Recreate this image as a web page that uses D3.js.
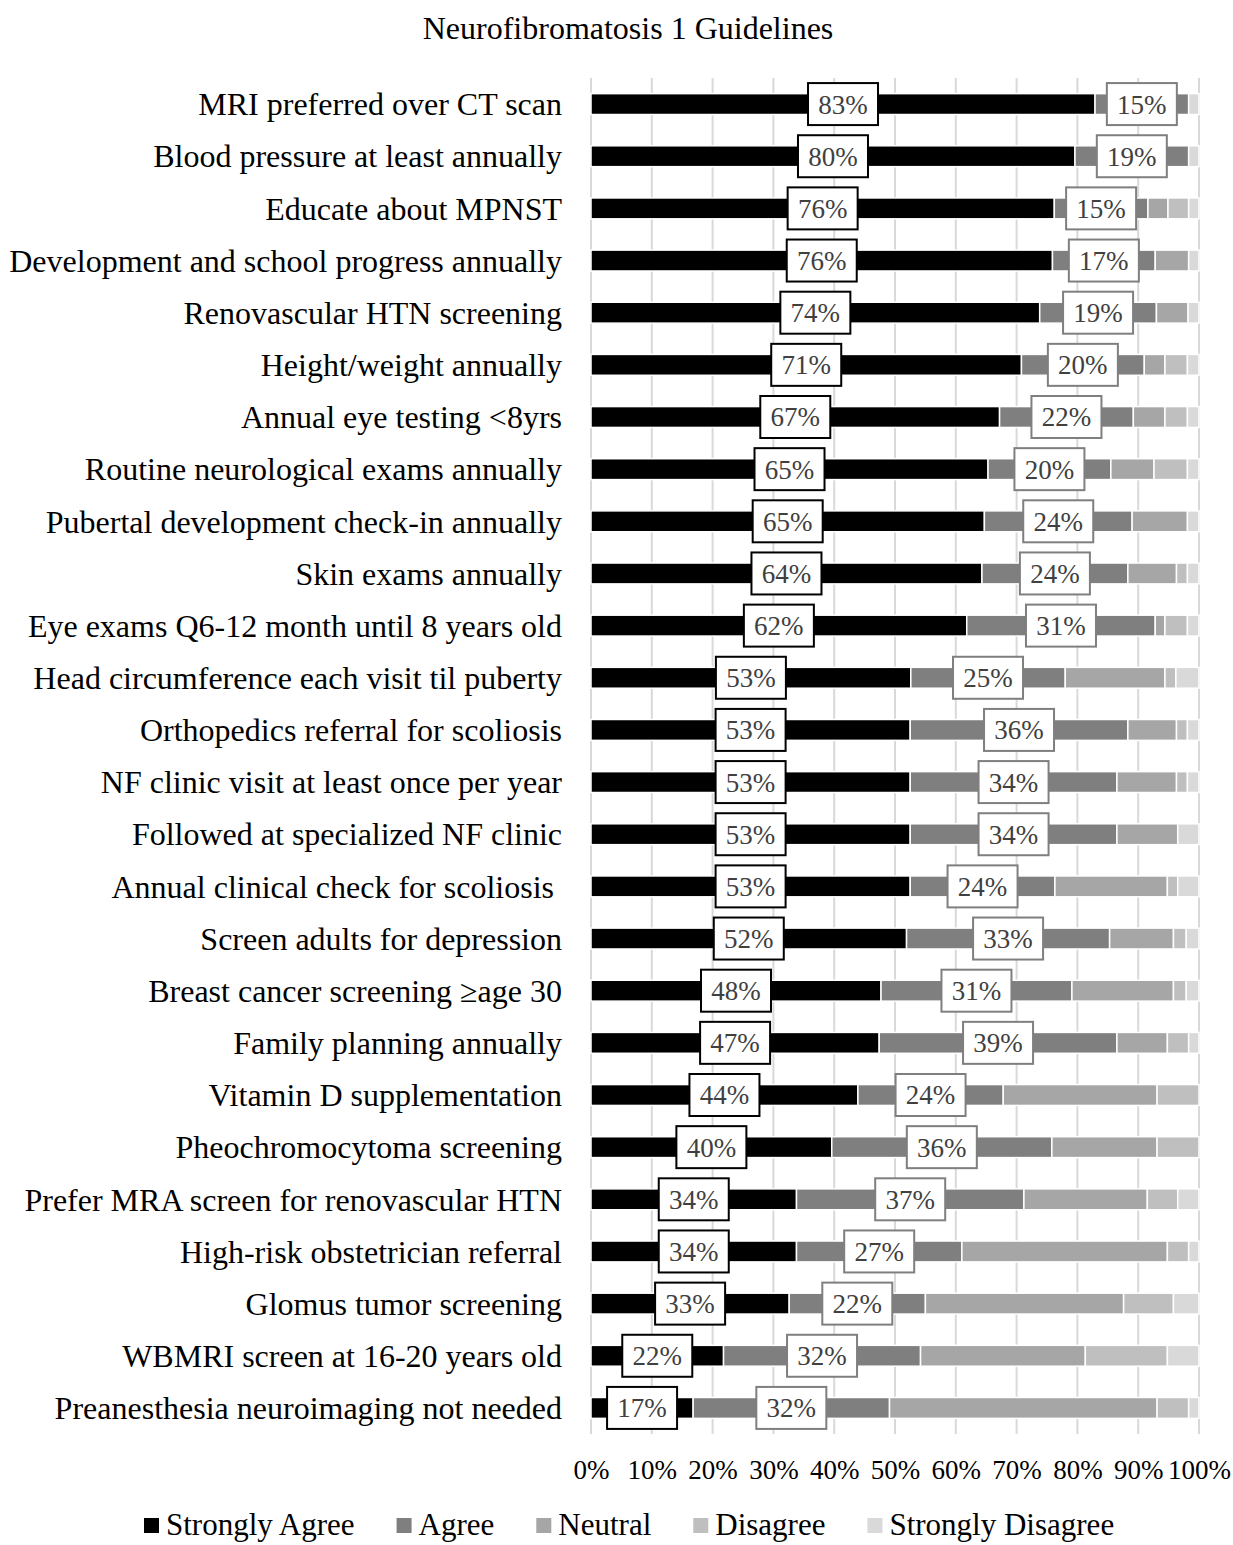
<!DOCTYPE html>
<html>
  <head>
    <meta charset="UTF-8" />
    <title>Neurofibromatosis 1 Guidelines</title>
    <script src="https://cdnjs.cloudflare.com/ajax/libs/d3/7.8.5/d3.min.js"></script>
    <style>
      body {
        margin: 0;
        padding: 0;
        background: #fff;
      }
      svg text {
        font-family: "Liberation Serif", "Times New Roman", serif;
      }
      .grid line {
        stroke: #d9d9d9;
        stroke-width: 2px;
      }
    </style>
  </head>

  <body>
    <svg id="chart" width="1233" height="1545"></svg>

    <script>
      // categories, top to bottom
      const categories = [
        "MRI preferred over CT scan",
        "Blood pressure at least annually",
        "Educate about MPNST",
        "Development and school progress annually",
        "Renovascular HTN screening",
        "Height/weight annually",
        "Annual eye testing <8yrs",
        "Routine neurological exams annually",
        "Pubertal development check-in annually",
        "Skin exams annually",
        "Eye exams Q6-12 month until 8 years old",
        "Head circumference each visit til puberty",
        "Orthopedics referral for scoliosis",
        "NF clinic visit at least once per year",
        "Followed at specialized NF clinic",
        "Annual clinical check for scoliosis ",
        "Screen adults for depression",
        "Breast cancer screening \u2265age 30",
        "Family planning annually",
        "Vitamin D supplementation",
        "Pheochromocytoma screening",
        "Prefer MRA screen for renovascular HTN",
        "High-risk obstetrician referral",
        "Glomus tumor screening",
        "WBMRI screen at 16-20 years old",
        "Preanesthesia neuroimaging not needed"
      ];

      // percent of respondents, same order as categories
      const stronglyAgree = [82.9, 79.6, 76.2, 75.9, 73.8, 70.8, 67.2, 65.3, 64.7, 64.3, 61.8, 52.6, 52.5,
                             52.5, 52.5, 52.5, 51.9, 47.7, 47.4, 43.9, 39.6, 33.8, 33.8, 32.6, 21.8, 16.8];
      const agree         = [15.4, 18.7, 15.4, 16.9, 19.2, 20.2, 22.0, 20.2, 24.3, 24.0, 31.0, 25.4, 35.8,
                             34.0, 34.0, 23.8, 33.4, 31.4, 39.1, 23.9, 36.2, 37.4, 27.2, 22.4, 32.4, 32.3];
      const neutral       = [0, 0, 3.3, 5.5, 5.2, 3.4, 5.2, 7.1, 9.1, 8.0, 1.6, 16.4, 8.0,
                             9.8, 10.0, 18.5, 10.5, 16.7, 8.3, 25.3, 17.3, 20.3, 33.8, 32.6, 27.1, 44.0];
      const disagree      = [0, 0, 3.4, 0, 0, 3.7, 3.7, 5.5, 0, 1.8, 3.7, 1.8, 1.8,
                             1.8, 0, 1.7, 2.1, 2.1, 3.5, 6.9, 6.9, 5.0, 3.5, 8.2, 13.5, 5.2];
      const stronglyDisagree = [1.7, 1.7, 1.7, 1.7, 1.8, 1.9, 1.9, 1.9, 1.9, 1.9, 1.9, 3.8, 1.9,
                                1.9, 3.5, 3.5, 2.1, 2.1, 1.7, 0, 0, 3.5, 1.7, 4.2, 5.2, 1.7];

      const seriesNames = ["Strongly Agree", "Agree", "Neutral", "Disagree", "Strongly Disagree"];
      const seriesColors = ["#000000", "#7f7f7f", "#a6a6a6", "#bfbfbf", "#d9d9d9"];
      const tickValues = [0, 10, 20, 30, 40, 50, 60, 70, 80, 90, 100];

      const svg = d3.select("#chart");

      // build rows for the stack
      const rows = categories.map((c, i) => ({
        category: c,
        "Strongly Agree": stronglyAgree[i],
        "Agree": agree[i],
        "Neutral": neutral[i],
        "Disagree": disagree[i],
        "Strongly Disagree": stronglyDisagree[i]
      }));
      const stacked = d3.stack().keys(seriesNames)(rows);

      const x = d3.scaleLinear().domain([0, 100]).range([591, 1199]);
      const y = d3.scaleBand().domain(categories).range([78, 1434])
        .paddingInner(0.6).paddingOuter(0.3);
      const color = d3.scaleOrdinal().domain(seriesNames).range(seriesColors);

      // title
      svg.append("text")
        .attr("x", 628)
        .attr("y", 39)
        .attr("text-anchor", "middle")
        .attr("font-size", 32)
        .attr("fill", "#000")
        .text("Neurofibromatosis 1 Guidelines");

      // vertical gridlines
      svg.append("g").attr("class", "grid")
        .selectAll("line")
        .data(tickValues)
        .join("line")
        .attr("x1", d => x(d)).attr("x2", d => x(d))
        .attr("y1", 78).attr("y2", 1434);

      // stacked bars
      svg.append("g")
        .selectAll("g")
        .data(stacked)
        .join("g")
        .attr("fill", d => color(d.key))
        .selectAll("rect")
        .data(d => d)
        .join("rect")
        .attr("x", d => x(d[0]))
        .attr("y", d => y(d.data.category))
        .attr("width", d => Math.max(0, x(d[1]) - x(d[0])))
        .attr("height", y.bandwidth())
        .attr("stroke", "#fff")
        .attr("stroke-width", 1.5);

      // data labels for Strongly Agree and Agree
      const fmt = v => Math.round(v) + "%";
      const labelled = stacked.slice(0, 2);
      const boxW = 70, boxH = 42;
      labelled.forEach((s, si) => {
        const g = svg.append("g");
        const lab = g.selectAll("g")
          .data(s)
          .join("g")
          .attr("transform", d => {
            const cx = (x(d[0]) + x(d[1])) / 2;
            const cy = y(d.data.category) + y.bandwidth() / 2;
            return `translate(${cx},${cy})`;
          });
        lab.append("rect")
          .attr("x", -boxW / 2)
          .attr("y", -boxH / 2)
          .attr("width", boxW)
          .attr("height", boxH)
          .attr("fill", "#fff")
          .attr("stroke", si === 0 ? "#000" : "#7f7f7f")
          .attr("stroke-width", 2);
        lab.append("text")
          .attr("text-anchor", "middle")
          .attr("dy", "0.35em")
          .attr("font-size", 27)
          .attr("fill", "#404040")
          .text(d => fmt(d[1] - d[0]));
      });

      // category labels
      svg.append("g")
        .selectAll("text")
        .data(categories)
        .join("text")
        .attr("x", 562)
        .attr("y", d => y(d) + y.bandwidth() / 2)
        .attr("dy", "0.35em")
        .attr("text-anchor", "end")
        .attr("font-size", 32)
        .attr("fill", "#000")
        .style("white-space", "pre")
        .text(d => d);

      // x axis labels
      const xAxis = d3.axisBottom(x)
        .tickValues(tickValues)
        .tickFormat(d => d + "%")
        .tickSize(0)
        .tickPadding(0);
      const axisG = svg.append("g")
        .attr("transform", "translate(0,1460)")
        .call(xAxis);
      axisG.select(".domain").remove();
      axisG.selectAll("text")
        .attr("font-family", "Liberation Serif, Times New Roman, serif")
        .attr("font-size", 27)
        .attr("fill", "#000");

      // legend
      const legend = svg.append("g").attr("transform", "translate(0,1524)");
      let lx = 144;
      seriesNames.forEach((name, i) => {
        legend.append("rect")
          .attr("x", lx)
          .attr("y", -6)
          .attr("width", 15)
          .attr("height", 15)
          .attr("fill", seriesColors[i]);
        const t = legend.append("text")
          .attr("x", lx + 22)
          .attr("y", 0)
          .attr("dy", "0.35em")
          .attr("font-size", 31)
          .attr("fill", "#000")
          .text(name);
        lx += 22 + t.node().getComputedTextLength() + 42;
      });
    </script>
  </body>
</html>
